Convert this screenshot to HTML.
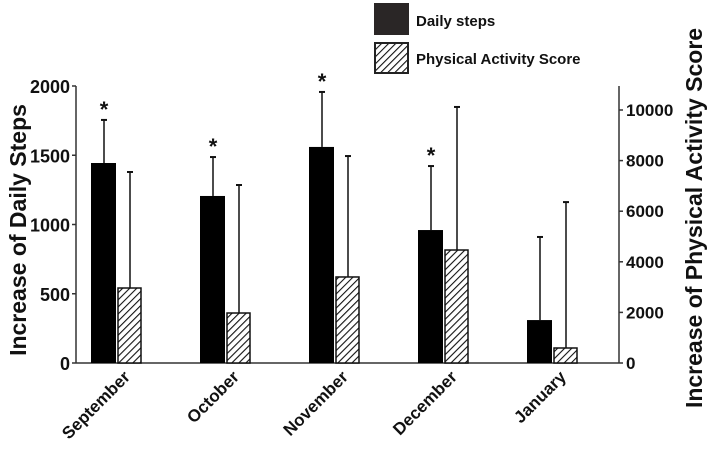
<!DOCTYPE html>
<html><head><meta charset="utf-8"><style>
body{margin:0;background:#fff;}
text{font-family:"Liberation Sans",sans-serif;font-weight:bold;fill:#111;}
</style></head><body>
<svg id="chart" width="709" height="445" viewBox="0 0 709 445" xmlns="http://www.w3.org/2000/svg">
<defs>
<pattern id="hatch" patternUnits="userSpaceOnUse" width="5" height="5" patternTransform="rotate(45)">
<rect width="5" height="5" fill="#fff"/><line x1="0" y1="0" x2="0" y2="5" stroke="#111" stroke-width="2.2"/>
</pattern>
</defs>
<g id="legend">
<rect x="374" y="3" width="35" height="32" fill="#2a2626"/>
<text x="416" y="26" font-size="15">Daily steps</text>
<rect x="375" y="43" width="33" height="30" fill="url(#hatch)" stroke="#222" stroke-width="2"/>
<text x="416" y="64" font-size="15">Physical Activity Score</text>
</g>
<g id="marks"></g>
<text transform="translate(26,230) rotate(-90)" text-anchor="middle" font-size="23">Increase of Daily Steps</text>
<text transform="translate(702,218) rotate(-90)" text-anchor="middle" font-size="23">Increase of Physical Activity Score</text>
</svg>
<script>
const categories=["September","October","November","December","January"];
const stepsValues=[1444,1206,1560,960,310];
const stepsErrors=[1755,1487,1957,1422,910];
const scoreValues=[2964,1976,3400,4466,593];
const scoreErrors=[7550,7035,8180,10120,6360];
const significant=[true,true,true,true,false];
const leftTicks=[0,500,1000,1500,2000];
const rightTicks=[0,2000,4000,6000,8000,10000];

const NS="http://www.w3.org/2000/svg";
const g=document.getElementById('marks');
const y0=363;
const yL=v=>y0-v*(277/2000);
const yR=v=>y0-v*(253/10000);
const xC=i=>117+i*109;
function mk(t,a){const e=document.createElementNS(NS,t);for(const k in a)e.setAttribute(k,a[k]);g.appendChild(e);return e;}

let e;
e=mk('line',{x1:76,y1:86,x2:76,y2:y0,stroke:'#333','stroke-width':1.5});


e=mk('line',{x1:76,y1:y0,x2:619,y2:y0,stroke:'#333','stroke-width':1.5});


e=mk('line',{x1:619,y1:86,x2:619,y2:y0,stroke:'#333','stroke-width':1.5});



leftTicks.forEach(t=>{
  e=mk('line',{x1:72,x2:76,y1:yL(t),y2:yL(t),stroke:'#333','stroke-width':1.5});
  
  
  e=mk('text',{x:70,y:yL(t)+7,'text-anchor':'end','font-size':18});
  e.textContent=t;
  
  
});
rightTicks.forEach(t=>{
  e=mk('line',{x1:619,x2:623,y1:yR(t),y2:yR(t),stroke:'#333','stroke-width':1.5});
  
  
  e=mk('text',{x:626,y:yR(t)+6,'font-size':17});
  e.textContent=t;
  
  
});

categories.forEach((c,i)=>{
  const xc=xC(i);
  const bx=xc-13;
  e=mk('line',{x1:bx,x2:bx,y1:yL(stepsErrors[i]),y2:yL(stepsValues[i]),stroke:'#111','stroke-width':1.5});
  
  
  e=mk('line',{x1:bx-3,x2:bx+3,y1:yL(stepsErrors[i]),y2:yL(stepsErrors[i]),stroke:'#111','stroke-width':2});
  
  
  const hx=xc+13;
  e=mk('line',{x1:hx,x2:hx,y1:yR(scoreErrors[i]),y2:yR(scoreValues[i]),stroke:'#111','stroke-width':1.5});
  
  
  e=mk('line',{x1:hx-3,x2:hx+3,y1:yR(scoreErrors[i]),y2:yR(scoreErrors[i]),stroke:'#111','stroke-width':2});
  
  
  e=mk('rect',{x:xc-26,y:yL(stepsValues[i]),width:25,height:y0-yL(stepsValues[i]),fill:'#000'});
  
  
  e=mk('rect',{x:xc+1,y:yR(scoreValues[i]),width:23,height:y0-yR(scoreValues[i]),fill:'url(#hatch)',stroke:'#111','stroke-width':1.5});
  
  
  if(significant[i]){
    e=mk('text',{x:bx,y:yL(stepsErrors[i])-3,'text-anchor':'middle','font-size':22});
    e.textContent='*';
    
    
  }
  e=mk('text',{transform:`translate(${xc+14},378) rotate(-45)`,'text-anchor':'end','font-size':17});
  e.textContent=c;
  
  
});
</script>
</body></html>
